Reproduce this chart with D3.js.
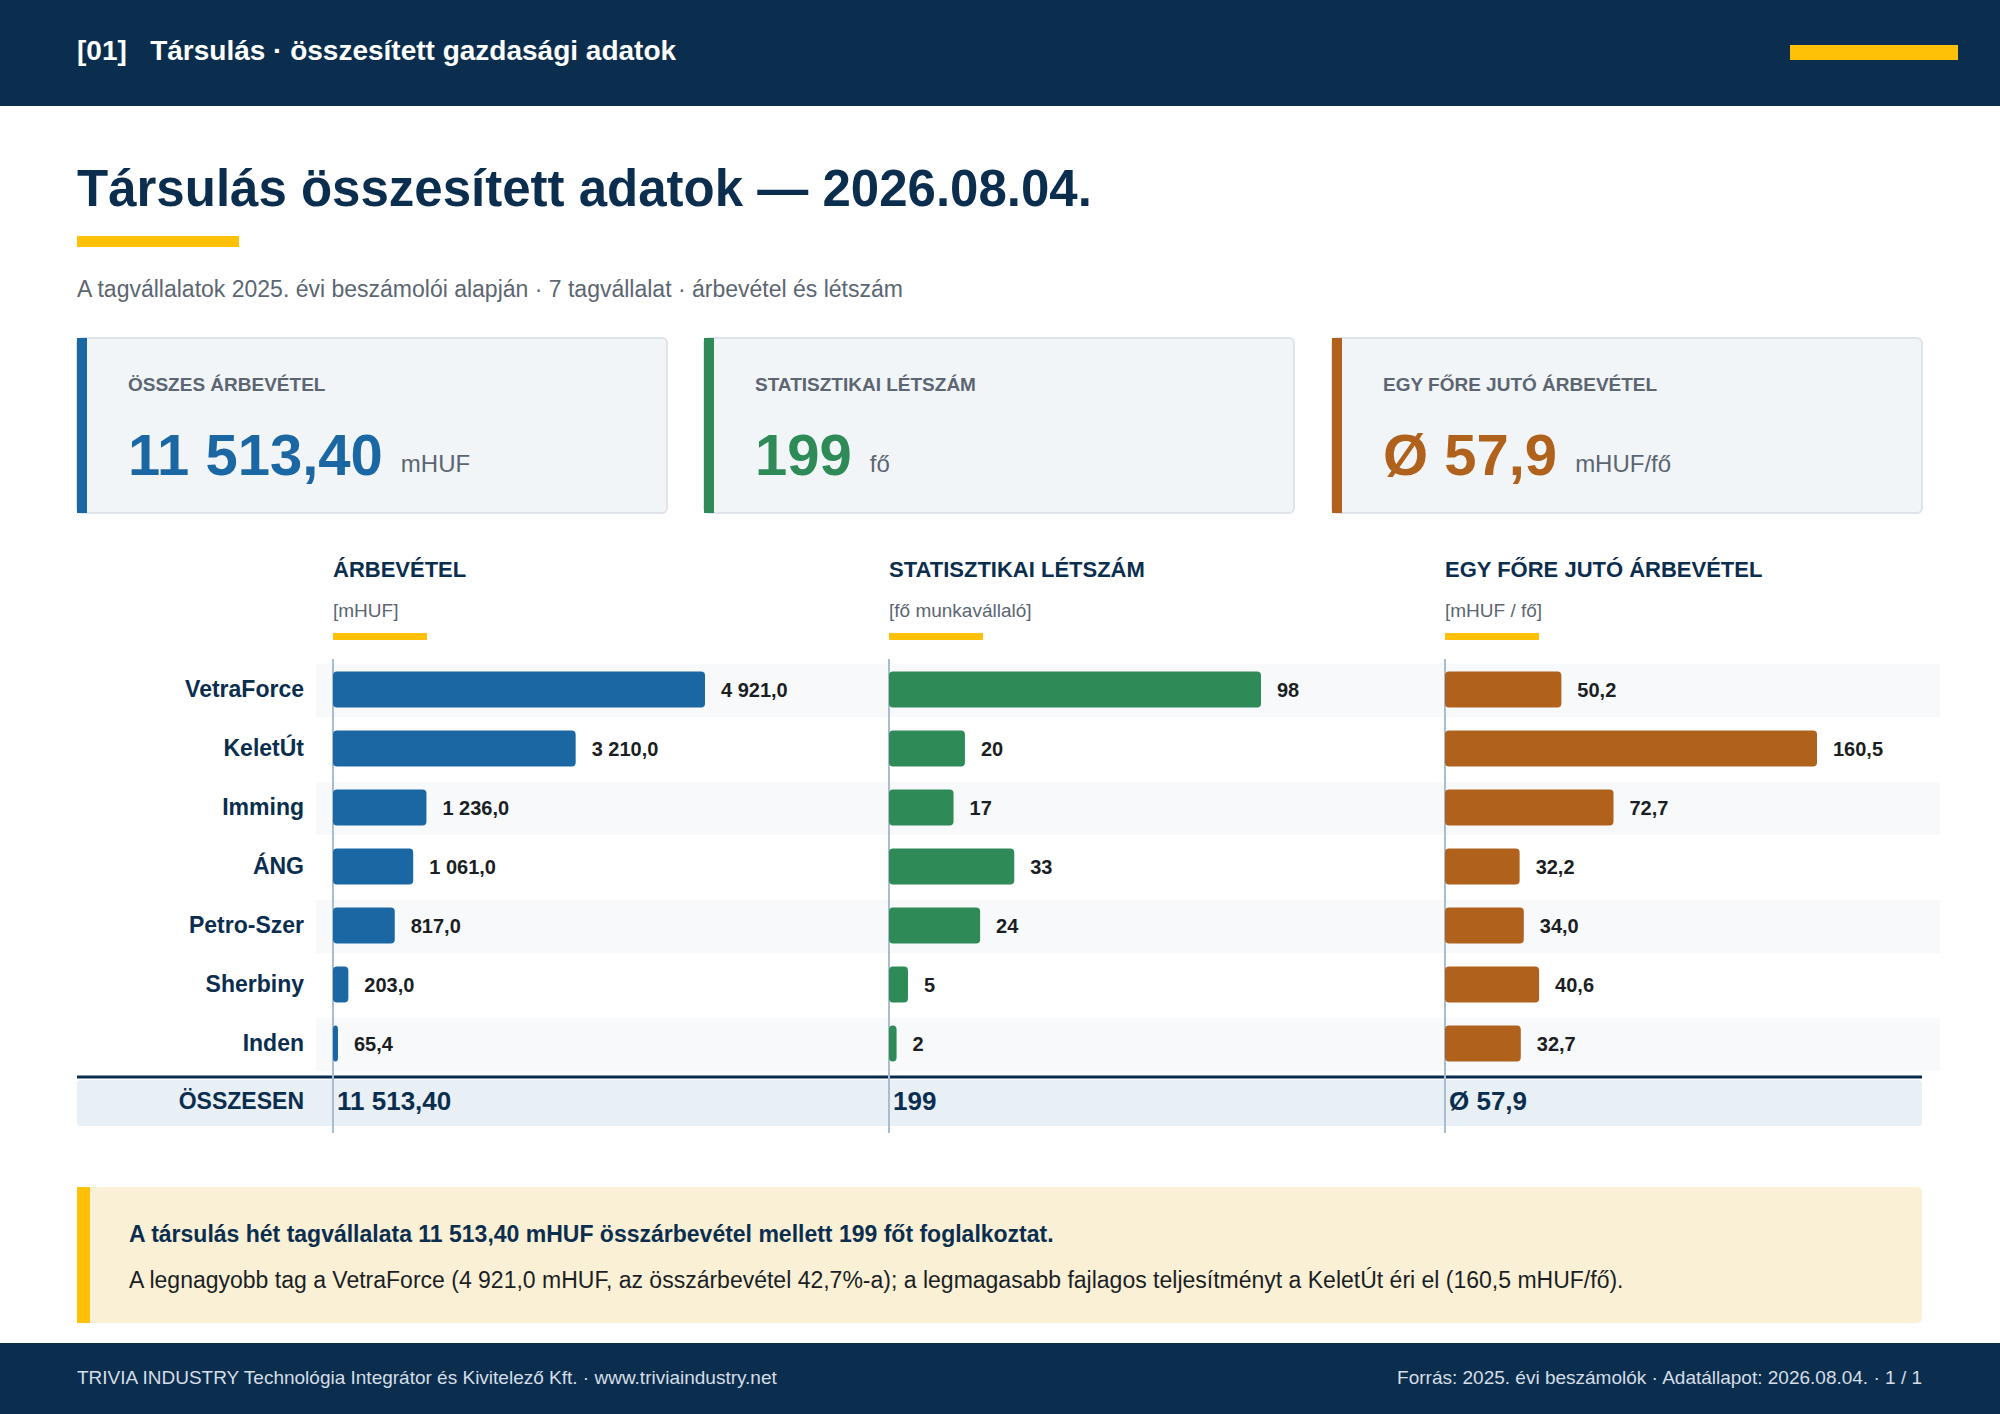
<!DOCTYPE html>
<html><head><meta charset="utf-8">
<script src="https://cdn.jsdelivr.net/npm/d3@7"></script>
<style>body{margin:0;background:#fff}svg{display:block;font-family:"Liberation Sans",Arial,sans-serif}</style>
</head><body>
<script>
const companies = ['VetraForce', 'KeletÚt', 'Imming', 'ÁNG', 'Petro-Szer', 'Sherbiny', 'Inden'];
const revenue = [4921.0, 3210.0, 1236.0, 1061.0, 817.0, 203.0, 65.4];
const headcount = [98, 20, 17, 33, 24, 5, 2];
const perHead = [50.2, 160.5, 72.7, 32.2, 34.0, 40.6, 32.7];
const totals = ['11 513,40', '199', 'Ø 57,9'];

const W = 2000, H = 1414;
const navy = '#0b2e4f', yellow = '#ffc107', grey = '#5b6672';
const svg = d3.select('body').append('svg').attr('width', W).attr('height', H);

const fmt = (v, d) => {
  const s = v.toFixed(d).split('.');
  const i = s[0].replace(/\B(?=(\d{3})+(?!\d))/g, ' ');
  return d ? i + ',' + s[1] : i;
};

// header
svg.append('rect').attr('width', W).attr('height', 106).attr('fill', navy);
svg.append('text').attr('x', 77).attr('y', 60).attr('fill', '#fff').attr('font-size', 28).attr('font-weight', 700)
  .text('[01]   Társulás · összesített gazdasági adatok').attr('xml:space', 'preserve');
svg.append('rect').attr('x', 1790).attr('y', 45).attr('width', 168).attr('height', 15).attr('fill', yellow);

// title
svg.append('text').attr('x', 77).attr('y', 206).attr('fill', navy).attr('font-size', 51).attr('font-weight', 700)
  .text('Társulás összesített adatok — 2026.08.04.');
svg.append('rect').attr('x', 77).attr('y', 236).attr('width', 162).attr('height', 11).attr('fill', yellow);
svg.append('text').attr('x', 77).attr('y', 297).attr('fill', grey).attr('font-size', 23)
  .text('A tagvállalatok 2025. évi beszámolói alapján · 7 tagvállalat · árbevétel és létszám');

// KPI cards
const cards = [
  {x: 77, label: 'ÖSSZES ÁRBEVÉTEL', value: '11 513,40', unit: 'mHUF', color: '#1a67a3'},
  {x: 704, label: 'STATISZTIKAI LÉTSZÁM', value: '199', unit: 'fő', color: '#2e8b57'},
  {x: 1332, label: 'EGY FŐRE JUTÓ ÁRBEVÉTEL', value: 'Ø 57,9', unit: 'mHUF/fő', color: '#b0621d'}
];
cards.forEach(c => {
  const g = svg.append('g').attr('transform', `translate(${c.x},338)`);
  g.append('rect').attr('width', 590).attr('height', 175).attr('rx', 5).attr('fill', '#f2f5f8').attr('stroke', '#dfe4ea').attr('stroke-width', 2);
  g.append('rect').attr('width', 10).attr('height', 175).attr('fill', c.color);
  g.append('text').attr('x', 51).attr('y', 53).attr('fill', grey).attr('font-size', 19).attr('font-weight', 700).text(c.label);
  const v = g.append('text').attr('x', 51).attr('y', 137).attr('fill', c.color).attr('font-size', 58).attr('font-weight', 700).text(c.value);
  const w = v.node().getComputedTextLength();
  g.append('text').attr('x', 51 + w + 18).attr('y', 134).attr('fill', grey).attr('font-size', 24).text(c.unit);
});

// bar panels
const y = d3.scaleBand().domain(companies).range([659, 1072]).paddingInner(0);
const rowH = y.bandwidth();
companies.forEach((c, i) => {
  if (i % 2 === 0) svg.append('rect').attr('x', 316).attr('y', y(c) + 5).attr('width', 1624).attr('height', rowH - 6).attr('fill', '#f7f9fb');
  svg.append('text').attr('x', 304).attr('y', y(c) + rowH / 2 + 8).attr('text-anchor', 'end').attr('fill', navy)
    .attr('font-size', 23).attr('font-weight', 700).text(c);
});

// total row
svg.append('rect').attr('x', 77).attr('y', 1080).attr('width', 1845).attr('height', 46).attr('rx', 4).attr('fill', '#e8eff5');
svg.append('line').attr('x1', 77).attr('x2', 1922).attr('y1', 1077).attr('y2', 1077).attr('stroke', navy).attr('stroke-width', 3);
svg.append('text').attr('x', 304).attr('y', 1109).attr('text-anchor', 'end').attr('fill', navy).attr('font-size', 23).attr('font-weight', 700).text('ÖSSZESEN');

const panels = [
  {x: 333, title: 'ÁRBEVÉTEL', unit: '[mHUF]', data: revenue, dec: 1, color: '#1a67a3'},
  {x: 889, title: 'STATISZTIKAI LÉTSZÁM', unit: '[fő munkavállaló]', data: headcount, dec: 0, color: '#2e8b57'},
  {x: 1445, title: 'EGY FŐRE JUTÓ ÁRBEVÉTEL', unit: '[mHUF / fő]', data: perHead, dec: 1, color: '#b0621d'}
];
panels.forEach((p, k) => {
  const x = d3.scaleLinear().domain([0, d3.max(p.data)]).range([p.x, p.x + 372]);
  svg.append('text').attr('x', p.x).attr('y', 577).attr('fill', navy).attr('font-size', 22).attr('font-weight', 700).text(p.title);
  svg.append('text').attr('x', p.x).attr('y', 617).attr('fill', grey).attr('font-size', 19).text(p.unit);
  svg.append('rect').attr('x', p.x).attr('y', 633).attr('width', 94).attr('height', 7).attr('fill', yellow);
  svg.append('line').attr('x1', p.x).attr('x2', p.x).attr('y1', 659).attr('y2', 1133).attr('stroke', '#a9bdd1').attr('stroke-width', 2);
  const bh = 36;
  svg.selectAll(null).data(p.data).enter().append('rect')
    .attr('x', x(0)).attr('y', (d, i) => y(companies[i]) + rowH / 2 - bh / 2 + 1)
    .attr('width', d => Math.max(5, x(d) - x(0))).attr('height', bh).attr('rx', 4).attr('fill', p.color);
  svg.selectAll(null).data(p.data).enter().append('text')
    .attr('x', d => Math.max(x(0) + 5, x(d)) + 16).attr('y', (d, i) => y(companies[i]) + rowH / 2 + 8)
    .attr('fill', '#1b1f24').attr('font-size', 20).attr('font-weight', 700).text(d => fmt(d, p.dec));
  svg.append('text').attr('x', p.x + 4).attr('y', 1110).attr('fill', navy).attr('font-size', 26).attr('font-weight', 700).text(totals[k]);
});

// note
svg.append('rect').attr('x', 77).attr('y', 1187).attr('width', 1845).attr('height', 136).attr('rx', 5).attr('fill', '#faf0d6');
svg.append('rect').attr('x', 77).attr('y', 1187).attr('width', 13).attr('height', 136).attr('fill', yellow);
svg.append('text').attr('x', 129).attr('y', 1242).attr('fill', navy).attr('font-size', 23).attr('font-weight', 700)
  .text('A társulás hét tagvállalata 11 513,40 mHUF összárbevétel mellett 199 főt foglalkoztat.');
svg.append('text').attr('x', 129).attr('y', 1288).attr('fill', '#1b1f24').attr('font-size', 23)
  .text('A legnagyobb tag a VetraForce (4 921,0 mHUF, az összárbevétel 42,7%-a); a legmagasabb fajlagos teljesítményt a KeletÚt éri el (160,5 mHUF/fő).');

// footer
svg.append('rect').attr('y', 1343).attr('width', W).attr('height', 71).attr('fill', navy);
svg.append('text').attr('x', 77).attr('y', 1384).attr('fill', '#d5dde6').attr('font-size', 19)
  .text('TRIVIA INDUSTRY Technológia Integrátor és Kivitelező Kft. · www.triviaindustry.net');
svg.append('text').attr('x', 1922).attr('y', 1384).attr('text-anchor', 'end').attr('fill', '#d5dde6').attr('font-size', 19)
  .text('Forrás: 2025. évi beszámolók · Adatállapot: 2026.08.04. · 1 / 1');
</script>
</body></html>
